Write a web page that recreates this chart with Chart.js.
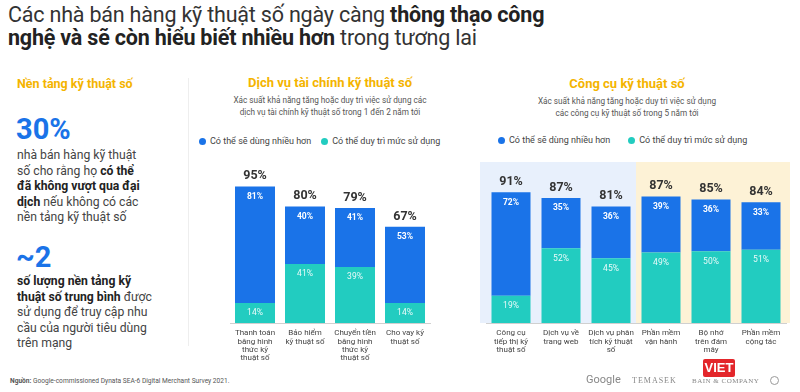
<!DOCTYPE html>
<html>
<head>
<meta charset="utf-8">
<script src="https://cdn.jsdelivr.net/npm/chart.js@4.4.1/dist/chart.umd.min.js"></script>
<style>
  html, body { margin: 0; padding: 0; background: #fff; }
  body { width: 800px; height: 392px; position: relative; overflow: hidden; font-family: Roboto, "Open Sans", sans-serif; color: #333; }
  .abs { position: absolute; }
  .title { left: 8px; top: 3px; font-size: 21.5px; line-height: 23px; color: #333; letter-spacing: -0.2px; }
  .title b { font-weight: 700; color: #222; }
  .orange { color: #f4b400; font-weight: 700; }
  .big { color: #1a73e8; font-weight: 700; font-size: 29px; line-height: 30px; }
  .para { font-size: 12.2px; line-height: 15.5px; color: #444; }
  .para b { color: #222; }
  .sub { font-size: 8.2px; line-height: 12px; color: #555; text-align: center; }
  .legend { font-size: 9px; color: #444; display: flex; align-items: center; white-space: nowrap; }
  .legend span.dot { display: inline-block; width: 7px; height: 7px; border-radius: 50%; margin-right: 4px; }
  .legend span.item { display: flex; align-items: center; }
  .foot { font-size: 6.6px; color: #555; }
</style>
</head>
<body>
<div class="abs title">Các nhà bán hàng kỹ thuật số ngày càng <b>thông thạo công</b><br><b>nghệ và sẽ còn hiểu biết nhiều hơn</b> trong tương lai</div>

<div class="abs orange" style="left:17px; top:76px; font-size:12.5px;">Nền tảng kỹ thuật số</div>
<div class="abs big" style="left:16px; top:114px;">30%</div>
<div class="abs para" style="left:17px; top:148px;">nhà bán hàng kỹ thuật<br>số cho rằng họ <b>có thể</b><br><b>đã không vượt qua đại</b><br><b>dịch</b> nếu không có các<br>nền tảng kỹ thuật số</div>
<div class="abs big" style="left:16px; top:242px;">~2</div>
<div class="abs para" style="left:17px; top:274px;"><b>số lượng nền tảng kỹ</b><br><b>thuật số trung bình</b> được<br>sử dụng để truy cập nhu<br>cầu của người tiêu dùng<br>trên mạng</div>
<div class="abs" style="left:188px; top:78px; width:1px; height:268px; background:#eeeeee;"></div>

<div class="abs orange" style="left:200px; top:75px; width:260px; text-align:center; font-size:13px;">Dịch vụ tài chính kỹ thuật số</div>
<div class="abs sub" style="left:200px; top:94px; width:260px;">Xác suất khả năng tăng hoặc duy trì việc sử dụng các<br>dịch vụ tài chính kỹ thuật số trong 1 đến 2 năm tới</div>
<div class="abs legend" id="legendFin" style="left:199px; top:136px;"></div>

<div class="abs orange" style="left:490px; top:76px; width:274px; text-align:center; font-size:13px;">Công cụ kỹ thuật số</div>
<div class="abs sub" style="left:490px; top:95px; width:274px;">Xác suất khả năng tăng hoặc duy trì việc sử dụng<br>các công cụ kỹ thuật số trong 5 năm tới</div>
<div class="abs legend" id="legendTool" style="left:498px; top:135px;"></div>

<canvas id="chartFin" class="abs" style="left:220px; top:162px;" width="220" height="204"></canvas>
<canvas id="chartTool" class="abs" style="left:476px; top:162px;" width="320" height="204"></canvas>

<div class="abs foot" style="left:10px; top:377px;"><b>Nguồn:</b> Google-commissioned Dynata SEA-6 Digital Merchant Survey 2021.</div>
<div class="abs" style="left:586px; top:373px; font-size:11px; color:#888;">Google</div>
<div class="abs" style="left:632px; top:376px; font-size:8px; color:#888; font-family:'Liberation Serif', serif; letter-spacing:1px;">TEMASEK</div>
<div class="abs" style="left:692px; top:377px; font-size:7px; color:#888; font-family:'Liberation Serif', serif; letter-spacing:0.5px;">BAIN &amp; COMPANY</div>
<div class="abs" style="left:770px; top:376px; width:7px; height:7px; border:1px solid #999; border-radius:50%;"></div>
<div class="abs" style="left:703px; top:359px; width:32px; height:18px; background:#e3262b; border-radius:2px; color:#fff; font-weight:700; font-size:13px; line-height:18px; text-align:center; font-family:'Liberation Sans', sans-serif;">VIET</div>

<script>
const seriesNames = ['Có thể sẽ dùng nhiều hơn', 'Có thể duy trì mức sử dụng'];
const seriesColors = ['#1a73e8', '#22ccc0'];

const finCategories = [
  ['Thanh toán', 'bằng hình', 'thức kỹ', 'thuật số'],
  ['Bảo hiểm', 'kỹ thuật số'],
  ['Chuyển tiền', 'bằng hình', 'thức kỹ', 'thuật số'],
  ['Cho vay kỹ', 'thuật số']
];
const finMore = [81, 40, 41, 53];
const finKeep = [14, 41, 39, 14];
const finTotals = [95, 80, 79, 67];

const toolCategories = [
  ['Công cụ', 'tiếp thị kỹ', 'thuật số'],
  ['Dịch vụ về', 'trang web'],
  ['Dịch vụ phân', 'tích kỹ thuật', 'số'],
  ['Phần mềm', 'vận hành'],
  ['Bộ nhớ', 'trên đám', 'mây'],
  ['Phần mềm', 'cộng tác']
];
const toolMore = [72, 35, 36, 39, 36, 33];
const toolKeep = [19, 52, 45, 49, 50, 51];
const toolTotals = [91, 87, 81, 87, 85, 84];

Chart.defaults.font.family = 'Roboto, "Open Sans", sans-serif';

function buildLegend(id, gap) {
  const el = document.getElementById(id);
  seriesNames.forEach((name, i) => {
    const item = document.createElement('span');
    item.className = 'item';
    item.style.marginRight = i === 0 ? gap + 'px' : '0';
    item.innerHTML = '<span class="dot" style="background:' + seriesColors[i] + '"></span>' + name;
    el.appendChild(item);
  });
}
buildLegend('legendFin', 10);
buildLegend('legendTool', 18);

// labels inside the segments and totals on top
const barLabels = {
  id: 'barLabels',
  afterDatasetsDraw(chart, args, opts) {
    const ctx = chart.ctx;
    ctx.save();
    ctx.textAlign = 'center';
    chart.data.datasets.forEach((ds, di) => {
      const meta = chart.getDatasetMeta(di);
      meta.data.forEach((bar, i) => {
        ctx.fillStyle = di === 1 ? '#ffffff' : 'rgba(255,255,255,0.9)';
        ctx.font = (di === 1 ? 'bold ' : '') + '8.5px Roboto';
        ctx.textBaseline = 'top';
        ctx.fillText(ds.data[i] + '%', bar.x, bar.y + 6);
      });
    });
    const topMeta = chart.getDatasetMeta(1);
    topMeta.data.forEach((bar, i) => {
      ctx.fillStyle = '#333';
      ctx.font = 'bold 12.5px Roboto';
      ctx.textBaseline = 'bottom';
      ctx.fillText(opts.totals[i] + '%', bar.x, bar.y - 4);
    });
    ctx.restore();
  }
};

// light blue / light yellow panels behind the tool chart
const panels = {
  id: 'panels',
  beforeDatasetsDraw(chart, args, opts) {
    if (!opts.split) return;
    const { ctx, chartArea, scales } = chart;
    const mid = (scales.x.getPixelForValue(opts.split - 1) + scales.x.getPixelForValue(opts.split)) / 2;
    const bottom = scales.y.getPixelForValue(0);
    ctx.save();
    ctx.fillStyle = '#e8f0fc';
    ctx.fillRect(chartArea.left - 6, chartArea.top, mid - chartArea.left + 6, bottom - chartArea.top);
    ctx.fillStyle = '#fdf2d6';
    ctx.fillRect(mid, chartArea.top, chartArea.right + 4 - mid, bottom - chartArea.top);
    ctx.restore();
  }
};

function makeChart(id, labels, more, keep, totals, barPct, split) {
  return new Chart(document.getElementById(id), {
    type: 'bar',
    data: {
      labels: labels,
      datasets: [
        { label: seriesNames[1], data: keep, backgroundColor: seriesColors[1], barPercentage: barPct, categoryPercentage: 1 },
        { label: seriesNames[0], data: more, backgroundColor: seriesColors[0], barPercentage: barPct, categoryPercentage: 1 }
      ]
    },
    options: {
      responsive: false,
      animation: false,
      layout: { padding: { left: 10, right: 10, top: 0, bottom: 0 } },
      plugins: {
        legend: { display: false },
        tooltip: { enabled: false },
        barLabels: { totals: totals },
        panels: { split: split }
      },
      scales: {
        x: {
          stacked: true,
          grid: { display: false, drawTicks: false },
          border: { display: true, color: '#d0d0d0' },
          ticks: { color: '#444', font: { size: 8, lineHeight: 1.05 }, padding: 6, maxRotation: 0, autoSkip: false },
          afterFit(scale) { scale.height = 43; }
        },
        y: {
          stacked: true,
          display: false,
          min: 0,
          max: 112
        }
      }
    },
    plugins: [panels, barLabels]
  });
}

makeChart('chartFin', finCategories, finMore, finKeep, finTotals, 0.8, 0);
makeChart('chartTool', toolCategories, toolMore, toolKeep, toolTotals, 0.78, 3);
</script>
</body>
</html>
